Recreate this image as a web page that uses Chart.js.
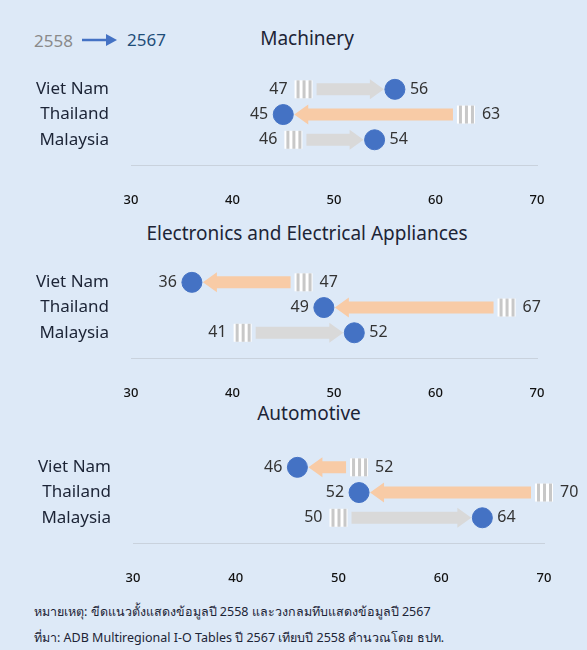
<!DOCTYPE html>
<html>
<head>
<meta charset="utf-8">
<script src="https://cdn.jsdelivr.net/npm/chart.js@4"></script>
<style>
  body { margin: 0; background: #dde9f7; font-family: "Noto Sans", sans-serif; }
  #wrap { position: relative; width: 587px; height: 650px; background: #dde9f7; overflow: hidden; }
  .abs { position: absolute; white-space: nowrap; }
  .title { font-size: 19px; color: #1c2436; transform: translateX(-50%); }
  .note { font-size: 12.5px; color: #1c2436; left: 34px; }
  canvas { position: absolute; left: 0; }
</style>
</head>
<body>
<div id="wrap">
  <div class="abs" style="left:34px;top:29px;font-size:17px;color:#8a8a8a;">2558</div>
  <svg class="abs" style="left:80px;top:32px" width="40" height="16"><line x1="2" y1="8" x2="28" y2="8" stroke="#4472c4" stroke-width="2.5"/><polygon points="26,2 37,8 26,14" fill="#4472c4"/></svg>
  <div class="abs" style="left:127px;top:28px;font-size:17px;color:#1f4e79;">2567</div>
  <div class="abs title" style="left:307px;top:25px;">Machinery</div>
  <div class="abs title" style="left:307px;top:220px;">Electronics and Electrical Appliances</div>
  <div class="abs title" style="left:309px;top:400px;">Automotive</div>
  <div class="abs note" style="top:602px;">หมายเหตุ: ขีดแนวตั้งแสดงข้อมูลปี 2558 และวงกลมทึบแสดงข้อมูลปี 2567</div>
  <div class="abs note" style="top:628px;">ที่มา: ADB Multiregional I-O Tables ปี 2567 เทียบปี 2558 คำนวณโดย ธปท.</div>
  <canvas id="c1"></canvas>
  <canvas id="c2"></canvas>
  <canvas id="c3"></canvas>
</div>
<script>
// --- data ---
const countries = ['Viet Nam', 'Thailand', 'Malaysia'];
const xTicks = [30, 40, 50, 60, 70];
const machinery2558 = [47, 63, 46];
const machinery2567 = [56, 45, 54];
const electronics2558 = [47, 67, 41];
const electronics2567 = [36, 49, 52];
const automotive2558 = [52, 70, 50];
const automotive2567 = [46, 52, 64];

const GRAY = '#d9d9d9';
const PEACH = '#f8cba6';
const BLUE = '#4472c4';

const arrowPlugin = {
  id: 'arrows',
  beforeDatasetsDraw(chart, args, opts) {
    const { ctx, scales: { x, y } } = chart;
    ctx.save();
    opts.start.forEach((s, i) => {
      const e = opts.end[i];
      const py = y.getPixelForValue(i);
      const sx = x.getPixelForValue(s);
      const ex = x.getPixelForValue(e);
      const dir = e > s ? 1 : -1;
      const col = dir > 0 ? GRAY : PEACH;
      // shaft + head
      const x0 = sx + dir * 13;
      const tip = ex - dir * 11;
      const headLen = 14;
      ctx.fillStyle = col;
      ctx.beginPath();
      ctx.moveTo(x0, py - 6);
      ctx.lineTo(tip - dir * headLen, py - 6);
      ctx.lineTo(tip - dir * headLen, py - 10);
      ctx.lineTo(tip, py);
      ctx.lineTo(tip - dir * headLen, py + 10);
      ctx.lineTo(tip - dir * headLen, py + 6);
      ctx.lineTo(x0, py + 6);
      ctx.closePath();
      ctx.fill();
      // striped marker for 2558
      ctx.fillStyle = '#ffffff';
      ctx.fillRect(sx - 9, py - 9, 18, 18);
      ctx.fillStyle = '#c8c8c8';
      for (let k = 0; k < 3; k++) ctx.fillRect(sx - 7 + k * 6, py - 9, 3, 18);
      // labels
      ctx.fillStyle = '#333';
      ctx.font = '16px "Noto Sans"';
      ctx.textBaseline = 'middle';
      ctx.textAlign = dir > 0 ? 'right' : 'left';
      ctx.fillText(s, sx - dir * 16, py);
      ctx.textAlign = dir > 0 ? 'left' : 'right';
      ctx.fillText(e, ex + dir * 15, py);
    });
    ctx.restore();
  }
};

const makePanel = (id, start, end, row0, left, right) => {
  const unit = 30.5;
  const areaH = 3.6 * unit;
  const xAxisH = 42;
  const canvas = document.getElementById(id);
  const h = Math.round(5 + areaH + xAxisH);
  canvas.style.top = (row0 - 0.6 * unit - 5) + 'px';
  canvas.width = 587; canvas.height = h;
  canvas.style.width = '587px'; canvas.style.height = h + 'px';
  new Chart(canvas, {
    type: 'scatter',
    data: {
      datasets: [{
        data: end.map((v, i) => ({ x: v, y: i })),
        pointRadius: 10, pointHoverRadius: 10,
        backgroundColor: BLUE, borderColor: BLUE
      }]
    },
    plugins: [arrowPlugin],
    options: {
      responsive: false, animation: false,
      layout: { padding: { top: 5, right: 587 - right, left: 0, bottom: 0 } },
      plugins: { legend: { display: false }, tooltip: { enabled: false }, arrows: { start, end } },
      scales: {
        x: {
          min: 30, max: 70,
          afterBuildTicks: a => { a.ticks = xTicks.map(v => ({ value: v })); },
          afterFit: a => { a.height = xAxisH; },
          grid: { display: false },
          border: { color: '#c9d2dd' },
          ticks: { padding: 19, color: '#111', font: { size: 13, weight: '500', family: '"Noto Sans"' } }
        },
        y: {
          reverse: true, min: -0.6, max: 3,
          afterBuildTicks: a => { a.ticks = [0, 1, 2].map(v => ({ value: v })); },
          afterFit: a => { a.width = left; },
          grid: { display: false },
          border: { display: false },
          ticks: {
            padding: 14, color: '#1c2436', font: { size: 17, family: '"Noto Sans"' },
            callback: v => countries[v]
          }
        }
      }
    }
  });
};

makePanel('c1', machinery2558, machinery2567, 73, 131, 537);
makePanel('c2', electronics2558, electronics2567, 266, 131, 537);
makePanel('c3', automotive2558, automotive2567, 451, 133, 544);
</script>
</body>
</html>
